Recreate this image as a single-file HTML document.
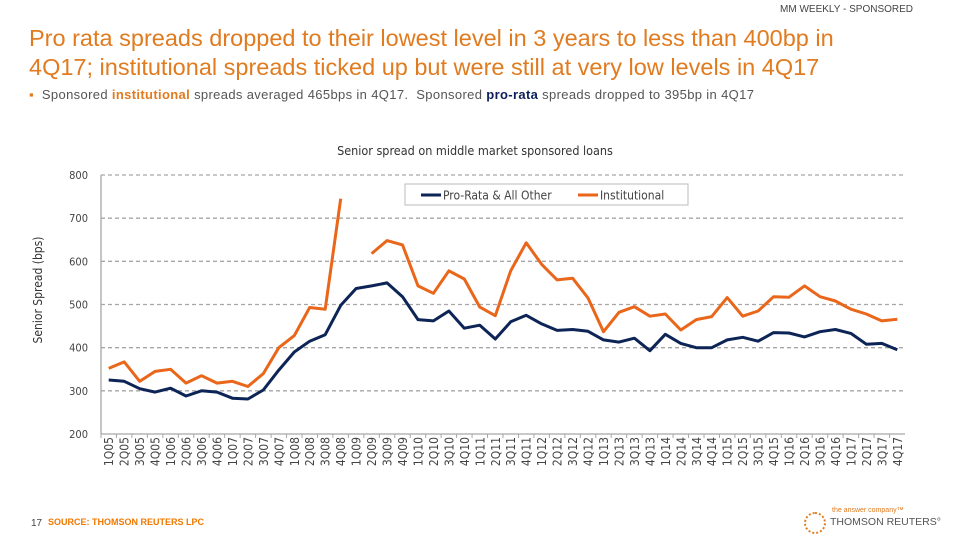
<!DOCTYPE html>
<html><head><meta charset="utf-8"><style>
body{margin:0;width:960px;height:540px;background:#fff;position:relative;overflow:hidden;font-family:"Liberation Sans",sans-serif}
.abs{position:absolute}
</style></head><body>
<div class="abs" style="right:47px;top:4px;font-size:10px;color:#444">MM WEEKLY - SPONSORED</div>
<div class="abs" style="left:29px;top:24px;font-size:23.5px;line-height:29px;color:#e07b20;width:930px;white-space:nowrap">Pro rata spreads dropped to their lowest level in 3 years to less than 400bp in<br>4Q17; institutional spreads ticked up but were still at very low levels in 4Q17</div>
<div class="abs" style="left:29px;top:87px;font-size:13px;letter-spacing:0.35px;color:#555;white-space:nowrap"><span style="color:#e07b20">▪</span>&nbsp; Sponsored <b style="color:#e07b20">institutional</b> spreads averaged 465bps in 4Q17.&nbsp; Sponsored <b style="color:#0c1f5a">pro-rata</b> spreads dropped to 395bp in 4Q17</div>
<svg class="abs" style="left:0;top:0" width="960" height="540" id="chart"></svg>
<div class="abs" style="left:31px;top:518px;font-size:10px;color:#444">17</div>
<div class="abs" style="left:48px;top:517px;font-size:9px;font-weight:bold;color:#f07800">SOURCE: THOMSON REUTERS LPC</div>
<div class="abs" style="left:832px;top:507px;font-size:7px;color:#e07b20">the answer company™</div>
<div class="abs" style="left:804px;top:512px;width:18px;height:18px;border-radius:50%;border:2px dotted #e07b20"></div>
<div class="abs" style="left:830px;top:516px;font-size:10.5px;color:#555">THOMSON REUTERS°</div>
<script>
const categories=[];["05","06","07","08","09","10","11","12","13","14","15","16","17"].forEach(y=>{for(let q=1;q<=4;q++)categories.push(q+"Q"+y)});
const proRata=[325,322,305,297,306,288,300,297,283,281,302,348,390,415,430,498,537,543,550,518,465,462,485,445,452,420,460,475,455,440,442,438,418,413,422,393,431,410,400,400,418,424,415,435,434,425,437,442,433,408,410,395];
const institutional=[352,367,322,345,350,318,335,318,322,310,340,400,428,493,489,745,null,618,648,638,543,526,578,559,494,474,578,643,593,557,561,515,437,482,495,473,478,441,465,472,516,473,485,518,517,543,518,508,489,478,462,466];
const yTicks=[200,300,400,500,600,700,800];
const svg=document.getElementById('chart');const NS='http://www.w3.org/2000/svg';
const x0=101,x1=905,y0=434,yTop=175;
const step=(x1-x0)/categories.length;
const xs=i=>x0+step*(i+0.5);
const ys=v=>y0-(v-200)/(800-200)*(y0-yTop);
function mk(t,a){const e=document.createElementNS(NS,t);for(const k in a)e.setAttribute(k,a[k]);svg.appendChild(e);return e}
let t=mk('text',{x:475,y:155,'text-anchor':'middle','font-size':12.5,fill:'#333','font-family':'DejaVu Sans Condensed, DejaVu Sans, sans-serif'});t.textContent='Senior spread on middle market sponsored loans';


t=mk('text',{x:0,y:0,transform:'translate(42,290) rotate(-90)','text-anchor':'middle','font-size':12,fill:'#333','font-family':'DejaVu Sans Condensed, DejaVu Sans, sans-serif'});t.textContent='Senior Spread (bps)';


yTicks.forEach(v=>{
 if(v>200){const g=mk('line',{x1:x0,x2:x1,y1:ys(v),y2:ys(v),stroke:'#a6a6a6','stroke-width':1.3,'stroke-dasharray':'4,3'});
 
 }
 const l=mk('text',{x:88,y:ys(v)+4,'text-anchor':'end','font-size':11,fill:'#444','font-family':'DejaVu Sans Condensed, DejaVu Sans, sans-serif'});l.textContent=v;
 
 
});
let a=mk('line',{x1:x0,x2:x0,y1:yTop,y2:y0,stroke:'#a6a6a6','stroke-width':1.3});


a=mk('line',{x1:x0,x2:x1,y1:y0,y2:y0,stroke:'#a6a6a6','stroke-width':1.3});


categories.forEach((c,i)=>{
 const tk=mk('line',{x1:x0+step*i,x2:x0+step*i,y1:y0,y2:y0+4,stroke:'#a6a6a6'});
 
 
 const l=mk('text',{x:0,y:0,transform:`translate(${xs(i)+4.5},437) rotate(-90)`,'text-anchor':'end','font-size':12,fill:'#444','font-family':'DejaVu Sans Condensed, DejaVu Sans, sans-serif'});l.textContent=c;
 
 
});
function path(arr){let d='',pen=false;arr.forEach((v,i)=>{if(v==null){pen=false;return}d+=(pen?'L':'M')+xs(i).toFixed(1)+','+ys(v).toFixed(1);pen=true});return d}
let p=mk('path',{d:path(proRata),fill:'none',stroke:'#0c2456','stroke-width':3,'stroke-linejoin':'round'});


p=mk('path',{d:path(institutional),fill:'none',stroke:'#e9661a','stroke-width':3,'stroke-linejoin':'round'});


const lg=mk('rect',{x:405,y:184,width:283,height:21,fill:'#fff',stroke:'#bbb'});


[[421,'#0c2456','Pro-Rata & All Other'],[578,'#e9661a','Institutional']].forEach(([x,c,n])=>{
 const l=mk('line',{x1:x,x2:x+20,y1:195,y2:195,stroke:c,'stroke-width':3});
 
 
 const tx=mk('text',{x:x+22,y:199.5,'font-size':12,fill:'#444','font-family':'DejaVu Sans Condensed, DejaVu Sans, sans-serif'});tx.textContent=n;
 
 
});
</script>
</body></html>
